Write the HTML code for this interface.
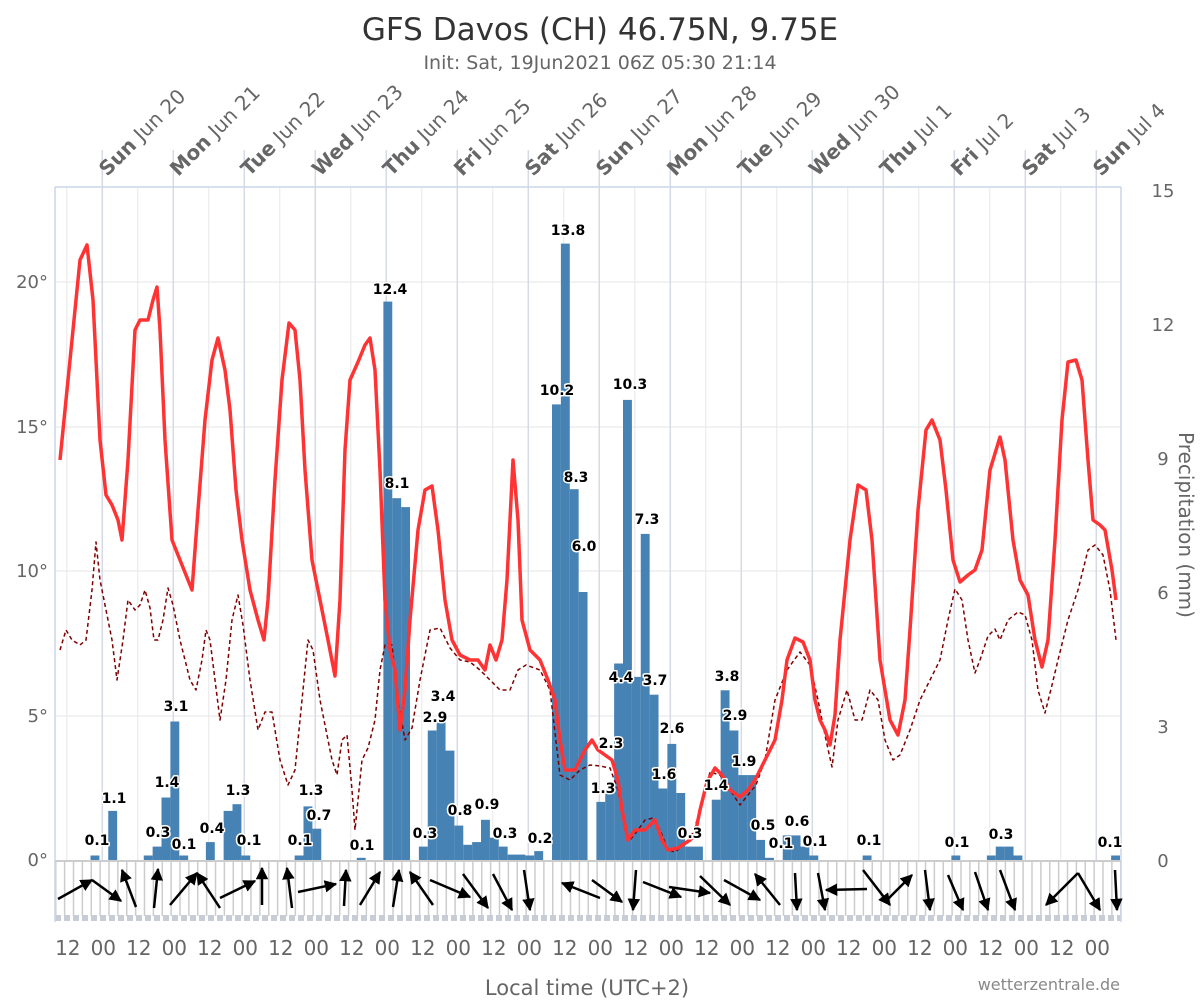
<!DOCTYPE html>
<html><head><meta charset="utf-8"><style>
html,body{margin:0;padding:0;background:#fff;}
svg{display:block;font-family:"DejaVu Sans","Liberation Sans",sans-serif;}
.pl{font-size:14px;font-weight:bold;fill:#000;stroke:#fff;stroke-width:3px;paint-order:stroke;stroke-linejoin:round;text-anchor:middle;}
.ax{font-size:18px;fill:#666;}
</style></head><body>
<svg width="1200" height="1000" viewBox="0 0 1200 1000" xmlns="http://www.w3.org/2000/svg">
<defs>
<pattern id="vl" patternUnits="userSpaceOnUse" x="55" y="0" width="8.875" height="10"><rect x="0" y="0" width="1.5" height="10" fill="#ccc"/></pattern>
<marker id="ah" viewBox="0 0 10 10" refX="9" refY="5" markerWidth="5" markerHeight="5" orient="auto" markerUnits="strokeWidth"><path d="M0,0 L10,5 L0,10 z" fill="#000"/></marker>
</defs>
<text x="600" y="40" text-anchor="middle" font-size="31" fill="#333">GFS Davos (CH) 46.75N, 9.75E</text>
<text x="600" y="69" text-anchor="middle" font-size="19" fill="#666">Init: Sat, 19Jun2021 06Z 05:30 21:14</text>
<g stroke="#e6e6e6" stroke-width="1">
<line x1="55" x2="1121" y1="282" y2="282"/><line x1="55" x2="1121" y1="427" y2="427"/><line x1="55" x2="1121" y1="571" y2="571"/><line x1="55" x2="1121" y1="716" y2="716"/>
<line x1="66.8" x2="66.8" y1="187" y2="860"/><line x1="137.8" x2="137.8" y1="187" y2="860"/><line x1="208.8" x2="208.8" y1="187" y2="860"/><line x1="279.8" x2="279.8" y1="187" y2="860"/><line x1="350.8" x2="350.8" y1="187" y2="860"/><line x1="421.8" x2="421.8" y1="187" y2="860"/><line x1="492.8" x2="492.8" y1="187" y2="860"/><line x1="563.8" x2="563.8" y1="187" y2="860"/><line x1="634.8" x2="634.8" y1="187" y2="860"/><line x1="705.8" x2="705.8" y1="187" y2="860"/><line x1="776.8" x2="776.8" y1="187" y2="860"/><line x1="847.8" x2="847.8" y1="187" y2="860"/><line x1="918.8" x2="918.8" y1="187" y2="860"/><line x1="989.8" x2="989.8" y1="187" y2="860"/><line x1="1060.8" x2="1060.8" y1="187" y2="860"/>
</g>
<g stroke="#d5dae6" stroke-width="1.5">
<line x1="102.3" x2="102.3" y1="150" y2="860"/><line x1="173.3" x2="173.3" y1="150" y2="860"/><line x1="244.3" x2="244.3" y1="150" y2="860"/><line x1="315.3" x2="315.3" y1="150" y2="860"/><line x1="386.3" x2="386.3" y1="150" y2="860"/><line x1="457.3" x2="457.3" y1="150" y2="860"/><line x1="528.3" x2="528.3" y1="150" y2="860"/><line x1="599.3" x2="599.3" y1="150" y2="860"/><line x1="670.3" x2="670.3" y1="150" y2="860"/><line x1="741.3" x2="741.3" y1="150" y2="860"/><line x1="812.3" x2="812.3" y1="150" y2="860"/><line x1="883.3" x2="883.3" y1="150" y2="860"/><line x1="954.3" x2="954.3" y1="150" y2="860"/><line x1="1025.3" x2="1025.3" y1="150" y2="860"/><line x1="1096.3" x2="1096.3" y1="150" y2="860"/>
</g>
<rect x="55" y="862" width="1066" height="54" fill="url(#vl)"/>
<line x1="55" x2="1121" y1="918" y2="918" stroke="#c8ccd4" stroke-width="6" stroke-dasharray="6,3"/>
<g stroke="#ccd6eb" stroke-width="1.5">
<line x1="55" x2="1121" y1="187" y2="187"/><line x1="55" x2="55" y1="187" y2="922"/><line x1="1121" x2="1121" y1="187" y2="922"/>
</g>
<line x1="55" x2="1121" y1="861" y2="861" stroke="#ccc" stroke-width="2"/>
<g fill="#4682b4">
<rect x="90.5" y="855.5" width="8.9" height="4.5"/><rect x="108.25" y="810.9" width="8.9" height="49.1"/><rect x="143.75" y="855.5" width="8.9" height="4.5"/><rect x="152.63" y="846.6" width="8.9" height="13.4"/><rect x="161.5" y="797.5" width="8.9" height="62.5"/><rect x="170.38" y="721.5" width="8.9" height="138.5"/><rect x="179.25" y="855.5" width="8.9" height="4.5"/><rect x="205.88" y="842.1" width="8.9" height="17.9"/><rect x="223.63" y="810.9" width="8.9" height="49.1"/><rect x="232.5" y="804.2" width="8.9" height="55.8"/><rect x="241.38" y="855.5" width="8.9" height="4.5"/><rect x="294.63" y="855.5" width="8.9" height="4.5"/><rect x="303.5" y="806.4" width="8.9" height="53.6"/><rect x="312.38" y="828.7" width="8.9" height="31.3"/><rect x="356.75" y="857.8" width="8.9" height="2.2"/>
<rect x="383.38" y="301.6" width="8.9" height="558.4"/><rect x="392.25" y="498.2" width="8.9" height="361.8"/><rect x="401.13" y="507.1" width="8.9" height="352.9"/><rect x="418.88" y="846.6" width="8.9" height="13.4"/><rect x="427.75" y="730.5" width="8.9" height="129.5"/><rect x="436.63" y="721.5" width="8.9" height="138.5"/><rect x="445.5" y="750.6" width="8.9" height="109.4"/><rect x="454.38" y="825.6" width="8.9" height="34.4"/><rect x="463.25" y="844.8" width="8.9" height="15.2"/><rect x="472.13" y="842.1" width="8.9" height="17.9"/><rect x="481" y="819.8" width="8.9" height="40.2"/><rect x="489.88" y="837.7" width="8.9" height="22.3"/><rect x="498.75" y="846.6" width="8.9" height="13.4"/><rect x="507.63" y="854.6" width="8.9" height="5.4"/><rect x="516.5" y="854.6" width="8.9" height="5.4"/><rect x="525.38" y="855.5" width="8.9" height="4.5"/><rect x="534.25" y="851.1" width="8.9" height="8.9"/>
<rect x="552" y="404.4" width="8.9" height="455.6"/><rect x="560.88" y="243.6" width="8.9" height="616.4"/><rect x="569.75" y="489.2" width="8.9" height="370.8"/><rect x="578.63" y="592" width="8.9" height="268"/><rect x="596.38" y="801.9" width="8.9" height="58.1"/><rect x="605.25" y="793" width="8.9" height="67"/><rect x="614.13" y="663.5" width="8.9" height="196.5"/><rect x="623" y="399.9" width="8.9" height="460.1"/><rect x="631.88" y="676.9" width="8.9" height="183.1"/><rect x="640.75" y="533.9" width="8.9" height="326.1"/><rect x="649.63" y="694.7" width="8.9" height="165.3"/><rect x="658.5" y="788.5" width="8.9" height="71.5"/><rect x="667.38" y="743.9" width="8.9" height="116.1"/><rect x="676.25" y="793" width="8.9" height="67"/><rect x="685.13" y="846.6" width="8.9" height="13.4"/><rect x="694" y="846.6" width="8.9" height="13.4"/>
<rect x="711.75" y="799.7" width="8.9" height="60.3"/><rect x="720.63" y="690.3" width="8.9" height="169.7"/><rect x="729.5" y="730.5" width="8.9" height="129.5"/><rect x="738.38" y="775.1" width="8.9" height="84.9"/><rect x="747.25" y="775.1" width="8.9" height="84.9"/><rect x="756.13" y="839.9" width="8.9" height="20.1"/><rect x="765" y="857.8" width="8.9" height="2.2"/><rect x="782.75" y="835.4" width="8.9" height="24.6"/><rect x="791.63" y="835.4" width="8.9" height="24.6"/><rect x="800.5" y="846.6" width="8.9" height="13.4"/><rect x="809.38" y="855.5" width="8.9" height="4.5"/>
<rect x="862.63" y="855.5" width="8.9" height="4.5"/><rect x="951.38" y="855.5" width="8.9" height="4.5"/><rect x="986.88" y="855.5" width="8.9" height="4.5"/><rect x="995.75" y="846.6" width="8.9" height="13.4"/><rect x="1004.63" y="846.6" width="8.9" height="13.4"/><rect x="1013.5" y="855.5" width="8.9" height="4.5"/><rect x="1111.13" y="855.5" width="8.87" height="4.5"/>
</g>
<polyline fill="none" stroke="#800000" stroke-width="1.5" stroke-dasharray="4,3" stroke-linejoin="round" points="60,650 66,630 72,640 80,645 86,640 92,590 96,542 100,580 106,610 112,640 117,680 123,640 128,600 135,610 140,605 145,590 150,608 154,640 158,640 163,620 168,588 173,605 180,640 190,680 196,690 202,660 206,630 210,640 215,680 220,720 226,680 232,620 238,595 243,625 250,680 258,730 265,712 272,712 280,760 288,785 295,770 302,700 308,640 313,650 320,700 326,730 332,760 337,775 342,740 347,735 352,790 355,830 358,800 362,760 368,748 375,720 380,670 385,645 392,645 398,700 405,740 412,728 420,680 430,630 440,628 450,648 460,660 470,662 480,670 490,680 500,690 510,690 518,670 526,665 540,670 550,690 560,775 570,780 580,770 590,765 600,766 610,768 618,790 625,830 630,840 638,830 645,820 653,818 660,830 668,850 675,852 690,840 700,812 710,772 720,775 730,790 740,805 748,795 756,785 765,760 775,700 787,670 800,652 810,665 818,700 826,740 832,767 838,720 847,690 855,720 862,720 870,690 878,700 885,740 893,760 900,755 910,730 920,700 932,676 940,660 948,620 955,589 962,600 968,640 975,673 980,660 988,636 995,629 1000,640 1008,620 1018,612 1025,615 1032,640 1038,690 1045,713 1052,685 1058,660 1068,620 1078,590 1088,550 1095,545 1103,555 1110,590 1116,640"/>
<polyline fill="none" stroke="#ff3333" stroke-width="3.5" stroke-linejoin="round" points="60,460 70,360 80,260 87,245 93,300 100,440 106,495 112,505 118,520 122,540 128,460 135,330 140,320 148,320 153,300 157,287 160,330 165,440 172,540 180,560 186,575 192,590 198,510 205,420 212,360 218,338 225,370 230,410 236,490 242,540 250,590 258,620 264,640 268,600 275,480 282,380 289,323 295,330 300,380 305,470 312,560 320,600 328,640 335,676 340,600 345,450 350,380 358,362 365,345 370,338 375,370 380,470 385,600 390,650 395,670 400,730 405,690 410,620 418,530 425,490 432,486 438,530 445,600 452,640 460,655 470,660 478,660 485,670 490,645 496,660 502,640 507,580 513,460 518,520 522,620 530,650 540,660 548,680 555,700 560,740 565,770 575,770 585,750 592,740 598,750 605,755 612,760 618,780 622,810 628,840 635,830 645,830 655,820 662,840 668,850 678,848 690,840 695,835 700,810 707,782 715,768 722,775 730,790 740,797 748,790 755,780 765,760 775,740 782,700 787,660 795,638 803,642 810,660 815,700 820,720 825,730 830,745 835,715 840,640 850,540 858,485 866,490 872,540 880,660 890,720 898,735 905,700 910,630 918,510 926,430 932,420 940,440 946,490 953,560 960,582 968,575 975,570 982,550 990,470 1000,437 1005,460 1013,540 1020,580 1028,595 1035,640 1042,667 1048,640 1055,540 1062,420 1068,362 1076,360 1082,380 1088,460 1093,520 1100,525 1105,530 1112,570 1116,600"/>
<g class="pl">
<text x="97" y="845">0.1</text><text x="114" y="803">1.1</text><text x="158" y="837">0.3</text><text x="167" y="787">1.4</text><text x="176" y="711">3.1</text><text x="184" y="849">0.1</text><text x="212" y="833">0.4</text><text x="238" y="795">1.3</text><text x="249" y="845">0.1</text><text x="300" y="845">0.1</text><text x="311" y="795">1.3</text><text x="319" y="820">0.7</text><text x="362" y="850">0.1</text><text x="390" y="294">12.4</text><text x="397" y="488">8.1</text><text x="425" y="838">0.3</text><text x="435" y="722">2.9</text><text x="443" y="701">3.4</text><text x="460" y="815">0.8</text><text x="487" y="809">0.9</text><text x="505" y="838">0.3</text><text x="540" y="843">0.2</text><text x="557" y="395">10.2</text><text x="568" y="235">13.8</text><text x="576" y="482">8.3</text><text x="584" y="551">6.0</text><text x="603" y="793">1.3</text><text x="611" y="748">2.3</text><text x="621" y="682">4.4</text><text x="630" y="389">10.3</text><text x="647" y="524">7.3</text><text x="655" y="685">3.7</text><text x="672" y="733">2.6</text><text x="664" y="779">1.6</text><text x="690" y="838">0.3</text><text x="716" y="790">1.4</text><text x="727" y="681">3.8</text><text x="735" y="720">2.9</text><text x="744" y="766">1.9</text><text x="763" y="830">0.5</text><text x="781" y="848">0.1</text><text x="797" y="826">0.6</text><text x="815" y="846">0.1</text><text x="869" y="845">0.1</text><text x="957" y="847">0.1</text><text x="1001" y="839">0.3</text><text x="1110" y="847">0.1</text>
</g>
<g stroke="#000" stroke-width="2.5" fill="none" marker-end="url(#ah)">
<line x1="58" y1="899" x2="92" y2="880"/><line x1="92" y1="880" x2="121" y2="901"/><line x1="136" y1="907" x2="122" y2="870"/><line x1="154" y1="908" x2="158" y2="869"/><line x1="170" y1="905" x2="197" y2="873"/><line x1="220" y1="908" x2="197" y2="873"/><line x1="220" y1="898" x2="255" y2="881"/><line x1="262" y1="905" x2="262" y2="868"/><line x1="292" y1="908" x2="287" y2="868"/><line x1="298" y1="892" x2="336" y2="884"/><line x1="344" y1="906" x2="346" y2="870"/><line x1="360" y1="905" x2="380" y2="872"/><line x1="393" y1="907" x2="399" y2="870"/><line x1="433" y1="905" x2="410" y2="872"/><line x1="430" y1="880" x2="470" y2="897"/><line x1="463" y1="874" x2="488" y2="908"/><line x1="493" y1="874" x2="512" y2="910"/><line x1="524" y1="870" x2="530" y2="910"/><line x1="600" y1="898" x2="562" y2="883"/><line x1="592" y1="880" x2="622" y2="902"/><line x1="636" y1="870" x2="633" y2="910"/><line x1="643" y1="882" x2="681" y2="897"/><line x1="669" y1="887" x2="710" y2="893"/><line x1="700" y1="876" x2="730" y2="905"/><line x1="724" y1="880" x2="760" y2="900"/><line x1="780" y1="905" x2="755" y2="874"/><line x1="795" y1="873" x2="797" y2="910"/><line x1="818" y1="873" x2="825" y2="910"/><line x1="867" y1="889" x2="826" y2="890"/><line x1="863" y1="870" x2="890" y2="905"/><line x1="885" y1="902" x2="912" y2="875"/><line x1="925" y1="870" x2="930" y2="910"/><line x1="948" y1="875" x2="963" y2="910"/><line x1="975" y1="872" x2="988" y2="910"/><line x1="1000" y1="870" x2="1015" y2="910"/><line x1="1078" y1="873" x2="1046" y2="905"/><line x1="1078" y1="873" x2="1100" y2="910"/><line x1="1115" y1="870" x2="1117" y2="910"/>
</g>
<g class="ax">
<text x="48" y="288" text-anchor="end">20°</text><text x="48" y="433" text-anchor="end">15°</text><text x="48" y="577" text-anchor="end">10°</text><text x="48" y="722" text-anchor="end">5°</text><text x="48" y="866" text-anchor="end">0°</text>
<text x="1163" y="197" text-anchor="middle">15</text><text x="1163" y="331" text-anchor="middle">12</text><text x="1163" y="465" text-anchor="middle">9</text><text x="1163" y="599" text-anchor="middle">6</text><text x="1163" y="733" text-anchor="middle">3</text><text x="1163" y="867" text-anchor="middle">0</text>
</g>
<text transform="translate(1179,525) rotate(90)" text-anchor="middle" font-size="20" fill="#666">Precipitation (mm)</text>
<g font-size="20" fill="#666" text-anchor="middle">
<text x="67.8" y="955">12</text><text x="103.3" y="955">00</text><text x="138.8" y="955">12</text><text x="174.3" y="955">00</text><text x="209.8" y="955">12</text><text x="245.3" y="955">00</text><text x="280.8" y="955">12</text><text x="316.3" y="955">00</text><text x="351.8" y="955">12</text><text x="387.3" y="955">00</text><text x="422.8" y="955">12</text><text x="458.3" y="955">00</text><text x="493.8" y="955">12</text><text x="529.3" y="955">00</text><text x="564.8" y="955">12</text><text x="600.3" y="955">00</text><text x="635.8" y="955">12</text><text x="671.3" y="955">00</text><text x="706.8" y="955">12</text><text x="742.3" y="955">00</text><text x="777.8" y="955">12</text><text x="813.3" y="955">00</text><text x="848.8" y="955">12</text><text x="884.3" y="955">00</text><text x="919.8" y="955">12</text><text x="955.3" y="955">00</text><text x="990.8" y="955">12</text><text x="1026.3" y="955">00</text><text x="1061.8" y="955">12</text><text x="1097.3" y="955">00</text>
</g>
<text x="587" y="995" text-anchor="middle" font-size="21" fill="#666">Local time (UTC+2)</text>
<text x="1120" y="990" text-anchor="end" font-size="16" fill="#888">wetterzentrale.de</text>
<g font-size="20" fill="#666">
<text transform="translate(107.3,177) rotate(-45)"><tspan font-weight="bold">Sun</tspan> Jun 20</text>
<text transform="translate(178.3,177) rotate(-45)"><tspan font-weight="bold">Mon</tspan> Jun 21</text>
<text transform="translate(249.3,177) rotate(-45)"><tspan font-weight="bold">Tue</tspan> Jun 22</text>
<text transform="translate(320.3,177) rotate(-45)"><tspan font-weight="bold">Wed</tspan> Jun 23</text>
<text transform="translate(391.3,177) rotate(-45)"><tspan font-weight="bold">Thu</tspan> Jun 24</text>
<text transform="translate(462.3,177) rotate(-45)"><tspan font-weight="bold">Fri</tspan> Jun 25</text>
<text transform="translate(533.3,177) rotate(-45)"><tspan font-weight="bold">Sat</tspan> Jun 26</text>
<text transform="translate(604.3,177) rotate(-45)"><tspan font-weight="bold">Sun</tspan> Jun 27</text>
<text transform="translate(675.3,177) rotate(-45)"><tspan font-weight="bold">Mon</tspan> Jun 28</text>
<text transform="translate(746.3,177) rotate(-45)"><tspan font-weight="bold">Tue</tspan> Jun 29</text>
<text transform="translate(817.3,177) rotate(-45)"><tspan font-weight="bold">Wed</tspan> Jun 30</text>
<text transform="translate(888.3,177) rotate(-45)"><tspan font-weight="bold">Thu</tspan> Jul 1</text>
<text transform="translate(959.3,177) rotate(-45)"><tspan font-weight="bold">Fri</tspan> Jul 2</text>
<text transform="translate(1030.3,177) rotate(-45)"><tspan font-weight="bold">Sat</tspan> Jul 3</text>
<text transform="translate(1101.3,177) rotate(-45)"><tspan font-weight="bold">Sun</tspan> Jul 4</text>
</g>
</svg>
</body></html>
